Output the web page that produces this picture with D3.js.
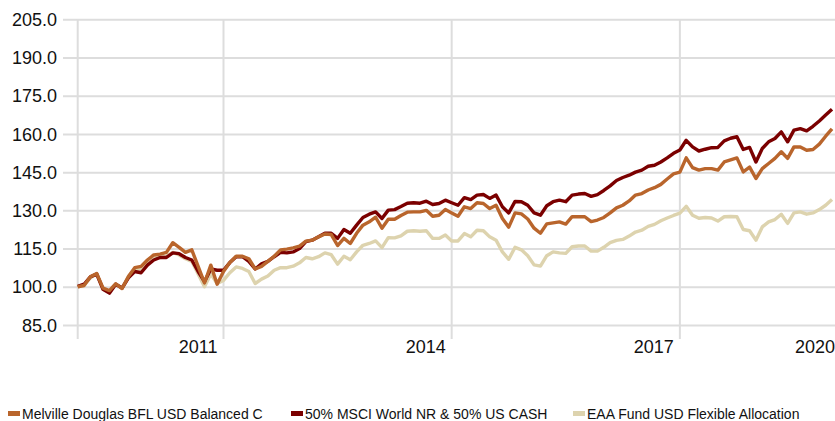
<!DOCTYPE html>
<html>
<head>
<meta charset="utf-8">
<script src="https://cdn.jsdelivr.net/npm/d3@7"></script>
<style>
  html, body { margin: 0; padding: 0; background: #fff; }
  svg { display: block; font-family: "Liberation Sans", Arial, sans-serif; }
</style>
</head>
<body>
<svg id="chart" width="835" height="421"></svg>
<script>
// ---- data (monthly index values, rebased to 100) ----
const seriesNames = [
  "Melville Douglas BFL USD Balanced C",
  "50% MSCI World NR & 50% US CASH",
  "EAA Fund USD Flexible Allocation"
];
const seriesColors = ["#b9652c", "#7b0000", "#ddd3ae"];

const melville = [
  100, 100.5, 103.9, 105.2, 99.5, 98.5, 101.2, 99.3, 104, 107.5,
  108, 110.5, 112.5, 112.8, 113.5, 117.3, 115.5, 113.5, 114.5, 108,
  101.5, 108.5, 101, 106, 109.5, 112, 112, 111, 107, 108,
  110, 112, 114.5, 114.8, 115.3, 116, 117.9, 118.3, 119.6, 120.7,
  120.5, 116.2, 119, 117, 121, 124.2, 125.5, 127.3, 123, 126.5,
  126.5, 128, 129.3, 129.4, 129.4, 130, 127.7, 128.1, 130.3, 129,
  127.7, 131.4, 130.7, 133, 132.7, 130.7, 132, 126.8, 123.4, 129,
  128.6, 126.6, 123, 121, 124.7, 125.1, 125.5, 124.6, 127.5, 127.5,
  127.5, 125.6, 126.2, 127.2, 129, 131, 132, 133.7, 136, 136.6,
  138, 138.9, 140.2, 142.3, 144.3, 145, 150.6, 146.8, 145.8, 146.4,
  146.4, 145.8, 149, 149.8, 150.6, 145.1, 147, 142.5, 146.4, 148.4,
  150.4, 153, 150.4, 154.9, 154.9, 153.6, 153.9, 156, 159.1, 162
];
const msci = [
  100.2, 101, 103.9, 105, 99, 97.5, 101, 99.5, 103.5, 106,
  105.5, 108.5, 110.5, 111.5, 111.5, 113.3, 113, 111.5, 110.5, 106,
  102, 107, 106.5, 106.5, 109.5, 111.8, 111.8, 110, 107, 109,
  110, 111.8, 113.5, 113.3, 113.7, 115, 117.7, 118.3, 119.6, 121,
  121, 119, 122.5, 121, 124.2, 127.2, 128.5, 129.4, 126.8, 130.1,
  130.3, 131.5, 132.8, 133, 132.8, 133.6, 132.3, 132.7, 134, 133,
  132, 135, 134.2, 136, 136.2, 134.7, 136, 131.4, 129, 133.5,
  133.4, 132, 129, 128.1, 131.8, 133.4, 134, 133.4, 136, 136.4,
  136.6, 135.5, 136.2, 137.8, 139.6, 141.7, 142.9, 143.8, 145, 145.8,
  147.3, 147.7, 149, 150.6, 152.4, 153.7, 157.5, 154.9, 153.3, 154,
  154.6, 154.7, 157.3, 158.3, 158.9, 153.9, 154.7, 149, 154.3, 156.9,
  158.2, 160.8, 156.9, 161.5, 162.1, 161.2, 163, 165.1, 167.4, 169.7
];
const eaa = [
  100, 100.5, 103.5, 105, 99, 98, 101, 99.5, 104, 107,
  107, 110, 112, 111.5, 112, 113.5, 112.5, 111, 110, 105,
  100, 105, 101.3, 102.5, 105.5, 107.8, 107.2, 106, 101.3, 103,
  104.2, 106.5, 107.5, 107.5, 108.1, 109.4, 111.5, 111, 111.8, 113.3,
  112.6, 108.9, 112, 110.6, 113.7, 116.3, 117, 118, 115.4, 119.3,
  119.2, 120, 121.8, 122, 121.8, 122, 119, 119, 120.3, 118,
  118, 120.9, 119.6, 122.2, 122, 119.6, 118.3, 113.7, 110.8, 115.5,
  114.5, 112.2, 108.6, 108.1, 112.2, 113.7, 113.3, 113.1, 115.7, 116,
  116, 114, 114, 115.5, 117.3, 118.2, 118.6, 119.9, 121.5, 122.2,
  123.7, 124.5, 125.9, 127, 128, 128.9, 131.6, 128.1, 126.9, 127.2,
  127, 125.8, 127.5, 127.6, 127.5, 122.5, 122, 118.3, 123.5, 125.5,
  126.4, 128.5, 124.9, 129, 129.4, 128.5, 129, 130.3, 132, 134.3
];
const yTicks = [85, 100, 115, 130, 145, 160, 175, 190, 205];
const xTickLabels = ["2011", "2014", "2017", "2020"];
const xTickMonths = [23, 59, 95, 131]; // month index where each year gridline falls

// ---- layout ----
const svg = d3.select("#chart");
const W = 835;
const plotLeft = 77.7, plotRight = 832, plotTop = 19.3, plotBottom = 325;

const x = d3.scaleLinear().domain([0, melville.length - 1]).range([plotLeft, plotRight]);
const y = d3.scaleLinear().domain([85, 205]).range([plotBottom, plotTop]);

const gridColor = "#dddddd";

// horizontal gridlines + y labels via axis
const yAxis = d3.axisLeft(y)
  .tickValues(yTicks)
  .tickFormat(d3.format(".1f"))
  .tickSize(-(W - 63))
  .tickPadding(6);
const gy = svg.append("g").attr("transform", `translate(63,0)`).call(yAxis);
gy.select(".domain").remove();
gy.selectAll(".tick line").attr("stroke", gridColor).attr("stroke-width", 2);
gy.selectAll(".tick text")
  .attr("fill", "#111")
  .attr("font-size", 18)
  .attr("x", -6)
  .attr("dy", "0.34em");

// vertical gridlines (axis line at start + year lines)
const vLines = [0].concat(xTickMonths.filter(m => x(m) <= W));
svg.append("g").selectAll("line").data(vLines).join("line")
  .attr("x1", d => x(d)).attr("x2", d => x(d))
  .attr("y1", plotTop).attr("y2", 339)
  .attr("stroke", gridColor).attr("stroke-width", 2);

// year labels, right-aligned just left of their gridline, clamped to the edge
svg.append("g").selectAll("text").data(xTickLabels).join("text")
  .attr("x", (d, i) => Math.min(x(xTickMonths[i]) - 6, W))
  .attr("y", 353)
  .attr("text-anchor", "end")
  .attr("font-size", 18)
  .attr("fill", "#111")
  .text(d => d);

// lines (draw last series first so Melville is on top)
const allSeries = [melville, msci, eaa];
const line = d3.line().x((d, i) => x(i)).y(d => y(d)).curve(d3.curveLinear);
for (let k = allSeries.length - 1; k >= 0; k--) {
  svg.append("path")
    .datum(allSeries[k])
    .attr("fill", "none")
    .attr("stroke", seriesColors[k])
    .attr("stroke-width", 3.4)
    .attr("stroke-linejoin", "round")
    .attr("d", line);
}

// legend
const legendX = [8, 291, 573];
const lg = svg.append("g");
seriesNames.forEach((name, i) => {
  lg.append("rect")
    .attr("x", legendX[i]).attr("y", 411)
    .attr("width", 12).attr("height", 5)
    .attr("fill", seriesColors[i]);
  lg.append("text")
    .attr("x", legendX[i] + 14).attr("y", 419)
    .attr("font-size", 14)
    .attr("fill", "#111")
    .text(name);
});
</script>
</body>
</html>
